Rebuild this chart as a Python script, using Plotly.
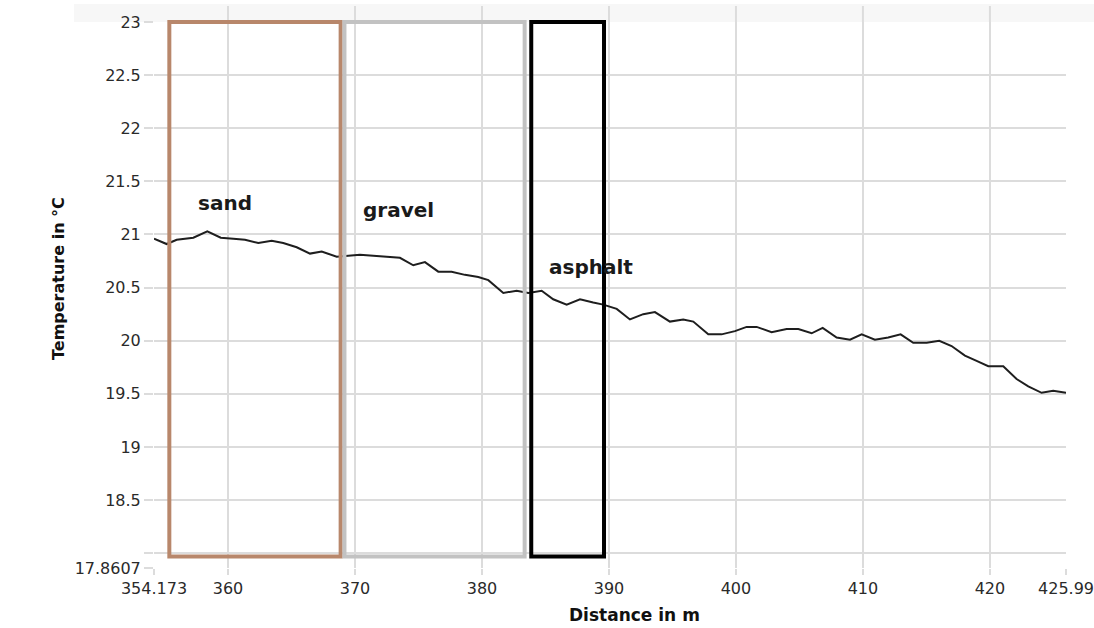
import plotly.graph_objects as go

# Temperature profile along the measured transect
distance_m = [
    354.173, 355.17, 355.96, 356.48, 357.27, 358.37, 359.43, 360.42, 361.34, 362.39,
    363.44, 364.35, 365.41, 366.46, 367.38, 368.56, 369.47, 370.39, 371.44, 372.50,
    373.54, 374.59, 375.51, 376.56, 377.61, 378.66, 379.71, 380.50, 381.68, 382.73,
    383.65, 384.70, 385.61, 386.67, 387.72, 388.76, 389.55, 390.61, 391.65, 392.70,
    393.62, 394.80, 395.85, 396.64, 397.82, 398.87, 399.92, 400.84, 401.63, 402.81,
    403.99, 404.91, 405.96, 406.83, 407.93, 408.98, 409.90, 410.94, 411.99, 412.97,
    413.96, 415.02, 416.01, 416.98, 418.03, 418.95, 419.87, 421.05, 422.10, 423.02,
    424.07, 424.98, 425.99,
]
temperature_c = [
    20.96, 20.91, 20.95, 20.96, 20.97, 21.03, 20.97, 20.96, 20.95, 20.92,
    20.94, 20.92, 20.88, 20.82, 20.84, 20.79, 20.80, 20.81, 20.80, 20.79,
    20.78, 20.71, 20.74, 20.65, 20.65, 20.62, 20.60, 20.57, 20.45, 20.47,
    20.45, 20.47, 20.39, 20.34, 20.39, 20.36, 20.34, 20.30, 20.20, 20.25,
    20.27, 20.18, 20.20, 20.18, 20.06, 20.06, 20.09, 20.13, 20.13, 20.08,
    20.11, 20.11, 20.07, 20.12, 20.03, 20.01, 20.06, 20.01, 20.03, 20.06,
    19.98, 19.98, 20.00, 19.95, 19.86, 19.81, 19.76, 19.76, 19.64, 19.57,
    19.51, 19.53, 19.51,
]
assert len(distance_m) == len(temperature_c)

# Surface sections (distance bounds and temperature span of each frame)
surface_names = ["sand", "gravel", "asphalt"]
surface_start = [355.38, 369.17, 383.88]
surface_end = [368.87, 383.36, 389.61]
surface_temp_low = [17.97, 17.97, 17.97]
surface_temp_high = [23.0, 23.0, 23.0]

# Axis ticks
x_min, x_max = 354.173, 425.99
y_min, y_max = 17.8607, 23.0
x_tick_vals = [354.173, 360, 370, 380, 390, 400, 410, 420, 425.99]
x_tick_text = ["354.173", "360", "370", "380", "390", "400", "410", "420", "425.99"]
x_grid_vals = [360, 370, 380, 390, 400, 410, 420]
y_tick_vals = [17.8607, 18.5, 19, 19.5, 20, 20.5, 21, 21.5, 22, 22.5, 23]
y_tick_text = ["17.8607", "18.5", "19", "19.5", "20", "20.5", "21", "21.5", "22", "22.5", "23"]
y_grid_vals = [18, 18.5, 19, 19.5, 20, 20.5, 21, 21.5, 22, 22.5, 23]

# Styling
frame_colors = {"sand": "#b8876b", "gravel": "#c2c2c2", "asphalt": "#000000"}
label_pos = {"sand": (359.75, 21.30), "gravel": (373.45, 21.23), "asphalt": (388.6, 20.69)}
grid_color = "#dcdcdc"
tick_font = dict(family="DejaVu Sans", size=16, color="#2a2a2a")
label_font = dict(family="DejaVu Sans", size=20, color="#1a1a1a", weight="bold")

W, H = 1094, 628
margin = dict(l=154, r=28, t=22, b=60, autoexpand=False)
plot_w = W - margin["l"] - margin["r"]
plot_h = H - margin["t"] - margin["b"]


def y_to_paper(v):
    return (v - y_min) / (y_max - y_min)


fig = go.Figure()
fig.add_trace(go.Scatter(
    x=distance_m, y=temperature_c, mode="lines",
    line=dict(color="#1e1e1e", width=2), hoverinfo="x+y", showlegend=False,
))

shapes = []
# faint header band above the plot area
shapes.append(dict(type="rect", xref="paper", yref="paper",
                   x0=-80 / plot_w, x1=1.04, y0=1.0, y1=1.0 + 18 / plot_h,
                   line=dict(width=0), fillcolor="rgba(0,0,0,0.03)", layer="below"))
# vertical grid lines continue slightly into the header band
for gx in x_grid_vals:
    shapes.append(dict(type="line", xref="x", yref="paper", x0=gx, x1=gx,
                       y0=1.0, y1=1.0 + 16 / plot_h,
                       line=dict(color=grid_color, width=2), layer="below"))
# surface frames
for name, x0, x1, lo, hi in zip(surface_names, surface_start, surface_end,
                                 surface_temp_low, surface_temp_high):
    shapes.append(dict(type="rect", xref="x", yref="paper",
                       x0=x0, x1=x1, y0=y_to_paper(lo), y1=y_to_paper(hi),
                       line=dict(color=frame_colors[name], width=4),
                       fillcolor="rgba(0,0,0,0)", layer="above"))

annotations = []
for name in surface_names:
    lx, ly = label_pos[name]
    annotations.append(dict(x=lx, y=ly, xref="x", yref="y", text=name,
                            showarrow=False, font=label_font,
                            xanchor="center", yanchor="middle"))
annotations.append(dict(x=(634 - margin["l"]) / plot_w,
                        y=-(615 - (H - margin["b"])) / plot_h,
                        xref="paper", yref="paper", text="Distance in m",
                        showarrow=False, xanchor="center", yanchor="middle",
                        font=dict(family="DejaVu Sans", size=17, color="#111111",
                                  weight="bold")))
annotations.append(dict(x=(58 - margin["l"]) / plot_w,
                        y=((H - margin["b"]) - 279) / plot_h,
                        xref="paper", yref="paper", text="Temperature in °C",
                        textangle=-90, showarrow=False,
                        xanchor="center", yanchor="middle",
                        font=dict(family="DejaVu Sans", size=16, color="#111111",
                                  weight="bold")))

fig.update_layout(
    width=W, height=H, margin=margin,
    paper_bgcolor="white", plot_bgcolor="white",
    shapes=shapes, annotations=annotations,
    xaxis=dict(
        range=[x_min, x_max], tickmode="array", automargin=False,
        tickvals=x_tick_vals, ticktext=x_tick_text,
        showgrid=False, zeroline=False, showline=False,
        ticks="outside", ticklen=6, tickcolor=grid_color, tickwidth=2,
        tickfont=tick_font,
        minor=dict(tickmode="array", tickvals=x_grid_vals, showgrid=True,
                   gridcolor=grid_color, gridwidth=2,
                   ticks="outside", ticklen=6, tickcolor=grid_color, tickwidth=2),
    ),
    yaxis=dict(
        range=[y_min, y_max], tickmode="array", automargin=False,
        tickvals=y_tick_vals, ticktext=y_tick_text,
        showgrid=False, zeroline=False, showline=False,
        ticks="outside", ticklen=9, tickcolor=grid_color, tickwidth=2,
        tickfont=tick_font,
        minor=dict(tickmode="array", tickvals=y_grid_vals, showgrid=True,
                   gridcolor=grid_color, gridwidth=2,
                   ticks="outside", ticklen=9, tickcolor=grid_color, tickwidth=2),
    ),
)

fig.write_html("out.html")
